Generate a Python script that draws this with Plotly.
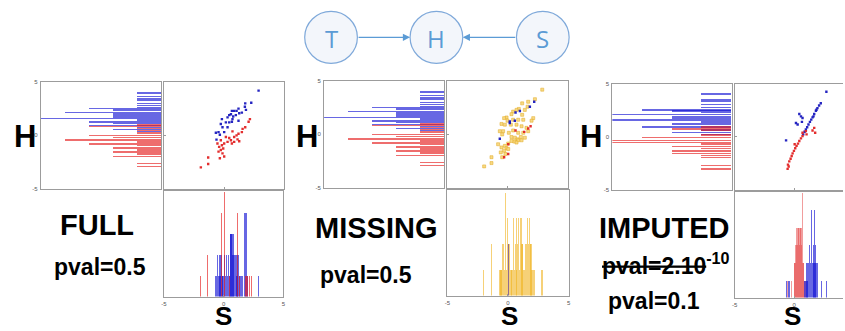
import plotly.graph_objects as go

W, H = 845, 331

# ---------------- data ----------------
# H histograms (horizontal, counts per thin bin)
full_hh_blue_h = [3.99, 3.64, 3.42, 3.26, 3.01, 2.79, 2.63, 2.54, 2.44, 2.32, 2.13, 2.00, 1.85, 1.72, 1.59, 1.44, 1.28, 1.12, 0.93, 0.74, 0.55, 0.36]
full_hh_blue_n = [1, 1, 1, 1, 1, 1, 1, 3, 2, 2, 4, 2, 2, 2, 5, 1, 3, 2, 3, 1, 2, 1]
full_hh_red_h = [0.99, 0.84, 0.68, 0.49, 0.24, -0.02, -0.21, -0.36, -0.49, -0.62, -0.80, -0.93, -1.15, -1.34, -1.53, -1.72, -1.94, -2.63, -2.92]
full_hh_red_n = [1, 3, 1, 1, 1, 3, 2, 4, 4, 1, 3, 1, 2, 1, 2, 1, 2, 1, 1]

imp_hh_blue_h = [4.04, 3.49, 3.33, 3.08, 2.76, 2.56, 2.47, 2.31, 2.12, 1.96, 1.79, 1.60, 1.41, 1.22, 0.93, 0.67, 0.45, 0.26]
imp_hh_blue_n = [1, 1, 1, 1, 1, 3, 2, 1, 4, 2, 2, 4, 1, 2, 3, 1, 2, 1]
imp_hh_red_h = [0.93, 0.77, 0.61, 0.19, -0.06, -0.35, -0.51, -0.67, -0.90, -1.09, -1.31, -1.54, -1.73, -1.92, -2.69, -3.01]
imp_hh_red_n = [1, 2, 1, 1, 3, 4, 4, 1, 2, 1, 2, 2, 1, 1, 1, 1]

# scatter S (x) vs H (y)
full_sc_blue_s = [2.86, 2.25, 1.75, 1.72, 1.81, 1.47, 1.19, 0.83, 0.64, 0.56, 0.42, 0.97, 1.25, 0.28, 0.69, 0.64, 1.19, -0.19, 0.14, 0.42, -0.28, -0.14, -0.47, 0.00, 0.28, -0.69, -0.36, -0.64, 0.75, 1.03]
full_sc_blue_h = [4.15, 3.02, 2.96, 2.65, 2.35, 2.10, 2.47, 2.26, 2.26, 1.95, 1.86, 1.86, 2.04, 1.65, 1.49, 1.25, 1.34, 1.49, 1.19, 1.19, 1.04, 0.73, 0.27, 0.27, 0.73, 0.21, 0.03, -0.43, 1.74, 2.26]
full_sc_red_s = [2.14, 2.03, 1.75, 1.53, 1.47, 1.19, 1.03, 0.69, 0.83, 0.42, 0.56, 0.83, 1.11, 0.28, 0.14, 0.00, -0.19, -0.42, -0.08, -0.28, -0.47, -0.14, 0.00, -0.36, -0.56, -0.28, 0.64, 1.25, -1.33, -1.33, -1.94]
full_sc_red_h = [1.49, 1.25, 0.73, 0.58, 0.27, 0.12, -0.03, 0.34, -0.18, -0.27, -0.49, -0.64, -0.40, -0.64, -0.18, -0.79, -0.95, -1.10, -1.25, -1.40, -1.55, -1.71, -2.01, -2.16, -0.79, -0.49, -0.79, -0.58, -2.10, -2.71, -3.02]

miss_sc_gold_s = [2.89, 2.28, 1.72, 1.22, 1.67, 1.44, 0.94, 0.75, 0.47, 0.33, 1.22, -0.08, -0.28, 0.00, 0.47, 0.89, 1.31, 2.14, 2.00, -0.50, -0.22, 0.28, 0.75, 1.17, 1.58, -0.64, -0.36, 0.11, 0.47, 0.89, 1.31, -0.44, 0.33, 0.61, 0.83, 1.11, 1.44, 0.56, 0.89, 0.33, 0.06, -0.22, -0.50, -0.08, -0.28, -0.56, 0.06, -0.17, -0.44, -1.33, -1.33, -1.94, -0.78, 0.75, 1.17, 1.72]
miss_sc_gold_h = [4.15, 3.26, 3.02, 2.87, 2.56, 2.26, 2.35, 2.26, 2.10, 1.86, 1.80, 1.55, 1.49, 1.25, 1.34, 1.34, 1.34, 1.49, 1.25, 0.95, 0.88, 0.88, 0.88, 0.73, 0.58, 0.27, 0.27, 0.12, 0.34, 0.12, 0.12, -0.03, -0.27, -0.34, -0.49, -0.27, -0.34, -0.70, -0.58, -0.64, -0.88, -1.10, -1.25, -1.31, -1.55, -1.71, -1.40, -1.86, -2.16, -2.16, -2.71, -3.02, -0.95, -0.79, -0.58, 0.27]
miss_sc_blue_s = [2.22, 1.86, 1.03, 0.67, 0.19, 0.19, 0.61, -0.64]
miss_sc_blue_h = [3.02, 2.56, 2.16, 2.01, 1.19, 1.04, 1.25, -0.43]
miss_sc_red_s = [1.92, 1.72, 1.39, 0.67, 0.06, -0.28, 0.06]
miss_sc_red_h = [0.73, 0.52, 0.21, 0.34, -0.95, -2.16, -1.86]

imp_sc_blue_s = [2.69, 2.22, 2.08, 1.94, 1.81, 1.67, 1.53, 1.42, 1.31, 1.19, 1.08, 0.97, 0.86, 0.75, 1.61, 1.86, 0.42, 0.56, 0.69, 0.14, 0.28, 0.64, -0.69]
imp_sc_blue_h = [4.23, 3.14, 2.93, 2.68, 2.43, 2.12, 1.81, 1.59, 1.38, 1.13, 0.88, 0.67, 0.45, 0.20, 1.90, 2.52, 2.12, 1.90, 1.75, 1.28, 1.13, 1.38, -0.36]
imp_sc_red_s = [0.69, 0.56, 0.42, 0.31, 0.19, 0.08, -0.03, -0.14, -0.22, -0.31, -0.42, -0.53, -0.47, -0.56, 0.69, 0.97, 1.67, 1.53, 1.75, 1.03, 0.03]
imp_sc_red_h = [0.05, -0.17, -0.42, -0.67, -0.88, -1.10, -1.35, -1.59, -1.84, -2.09, -2.34, -2.65, -2.83, -3.05, 0.36, 0.51, 0.82, 0.57, 0.36, 0.20, -0.73]

# S histograms (vertical thin bars)
full_sh_red_s = [-1.92, -1.36, -0.18, 0.10, 0.46, 1.16, 1.30, 1.81, 1.95, 2.14, 2.34]
full_sh_red_n = [1, 2, 4, 5, 1, 4, 1, 1, 1, 1, 1]
full_sh_blue_s = [-0.68, -0.60, -0.52, -0.45, -0.38, -0.30, -0.22, -0.12, -0.05, 0.05, 0.15, 0.22, 0.30, 0.40, 0.48, 0.55, 0.62, 0.70, 0.78, 0.85, 0.95, 1.05, 1.12, 1.20, 1.30, 1.40, 1.50, 1.60, 1.78, 1.88, 2.00, 2.93]
full_sh_blue_n = [1, 1, 2, 1, 2, 1, 2, 1, 1, 2, 1, 2, 1, 2, 1, 3, 3, 3, 2, 3, 2, 2, 1, 2, 1, 1, 1, 1, 4, 4, 1, 1]

miss_sh_gold_s = [-1.96, -1.36, -0.70, -0.62, -0.55, -0.48, -0.40, -0.32, -0.25, -0.18, -0.10, 0.01, 0.08, 0.15, 0.22, 0.29, 0.36, 0.48, 0.55, 0.64, 0.70, 0.75, 0.82, 0.92, 1.00, 1.11, 1.18, 1.25, 1.32, 1.40, 1.47, 1.55, 1.66, 1.72, 1.79, 1.86, 1.93, 2.00, 2.12, 2.20, 2.84]
miss_sh_gold_n = [1, 2, 1, 1, 1, 1, 2, 2, 1, 4, 1, 3, 2, 2, 1, 1, 1, 3, 1, 2, 1, 3, 2, 3, 1, 3, 2, 2, 1, 1, 2, 2, 3, 2, 3, 2, 2, 1, 1, 1, 1]
miss_sh_blue_s = [0.10]
miss_sh_blue_n = [2]

imp_sh_red_s = [-0.61, -0.25, -0.03, 0.03, 0.08, 0.14, 0.19, 0.25, 0.31, 0.36, 0.42, 0.48, 0.53, 0.58, 0.64, 0.70, 0.75, 0.86]
imp_sh_red_n = [1, 1, 2, 2, 3, 3, 4, 3, 4, 4, 3, 4, 4, 3, 6, 2, 2, 1]
imp_sh_blue_s = [-0.69, -0.47, 0.81, 0.90, 0.97, 1.04, 1.11, 1.18, 1.25, 1.32, 1.42, 1.49, 1.56, 1.62, 1.67, 1.72, 1.78, 1.84, 1.89, 2.22, 2.64]
imp_sh_blue_n = [1, 1, 1, 1, 2, 1, 2, 2, 3, 2, 5, 2, 3, 2, 5, 2, 3, 2, 2, 1, 1]

panel_titles = ["FULL", "MISSING", "IMPUTED"]
node_labels = ["T", "H", "S"]

# ---------------- styling ----------------
BLUE_BAR = "rgba(10,10,210,0.62)"
RED_BAR = "rgba(228,20,20,0.62)"
GOLD_BAR = "rgba(240,178,30,0.6)"
BLUE_PT = "rgba(25,25,190,0.95)"
RED_PT = "rgba(225,35,35,0.95)"
FONT = "Liberation Sans, Arial, sans-serif"

def dx(a, b):
    return [a / W, min(b / W, 1.0)]

def dy(top, bottom):
    return [1 - bottom / H, 1 - top / H]

panels = [
    dict(hh=(38, 159, 80, 189), sc=(162, 283, 80, 189), sh=(162, 282, 191, 299), hmax=5, shmax=5.03, srange=[-5, 5], cut=False,
         hh_data=[(full_hh_blue_h, full_hh_blue_n, BLUE_BAR), (full_hh_red_h, full_hh_red_n, RED_BAR)],
         sc_data=[(full_sc_blue_s, full_sc_blue_h, BLUE_PT, None), (full_sc_red_s, full_sc_red_h, RED_PT, None)],
         sh_data=[(full_sh_blue_s, full_sh_blue_n, BLUE_BAR), (full_sh_red_s, full_sh_red_n, RED_BAR)]),
    dict(hh=(323, 444, 79, 188), sc=(447, 568, 79, 188), sh=(447, 569, 190, 298), hmax=5, shmax=4.1, srange=[-5, 5], cut=False,
         hh_data=[(full_hh_blue_h, full_hh_blue_n, BLUE_BAR), (full_hh_red_h, full_hh_red_n, RED_BAR)],
         sc_data=[(miss_sc_gold_s, miss_sc_gold_h, "rgba(246,214,120,0.9)", "rgba(228,172,40,0.9)"),
                  (miss_sc_blue_s, miss_sc_blue_h, BLUE_PT, None), (miss_sc_red_s, miss_sc_red_h, RED_PT, None)],
         sh_data=[(miss_sh_gold_s, miss_sh_gold_n, GOLD_BAR), (miss_sh_blue_s, miss_sh_blue_n, "rgba(80,40,160,0.6)")]),
    dict(hh=(613, 733, 82, 190), sc=(736, 845, 82, 190), sh=(736, 845, 192, 300), hmax=4, shmax=6.05, srange=[-5, 4.083], cut=True,
         hh_data=[(imp_hh_blue_h, imp_hh_blue_n, BLUE_BAR), (imp_hh_red_h, imp_hh_red_n, RED_BAR)],
         sc_data=[(imp_sc_blue_s, imp_sc_blue_h, BLUE_PT, None), (imp_sc_red_s, imp_sc_red_h, RED_PT, None)],
         sh_data=[(imp_sh_red_s, imp_sh_red_n, "rgba(228,60,60,0.5)"), (imp_sh_blue_s, imp_sh_blue_n, BLUE_BAR)]),
]

fig = go.Figure()
layout = dict(width=W, height=H, margin=dict(l=0, r=0, t=0, b=0), autosize=False,
              paper_bgcolor="white", plot_bgcolor="white", showlegend=False, barmode="overlay",
              bargap=0)

def ax(**kw):
    d = dict(showline=True, linecolor="#9c9c9c", linewidth=1, mirror=True, showgrid=False,
             zeroline=False, ticks="", showticklabels=False, fixedrange=True,
             tickfont=dict(size=6, color="#555", family=FONT))
    d.update(kw)
    return d

for p, P in enumerate(panels):
    i1, i2, i3 = 3 * p + 1, 3 * p + 2, 3 * p + 3
    nm = lambda i: "" if i == 1 else str(i)
    # horizontal H histogram
    x0, x1, t, b = P["hh"]
    layout["xaxis" + nm(i1)] = ax(domain=dx(x0, x1), range=[P["hmax"], 0], anchor="y" + nm(i1))
    layout["yaxis" + nm(i1)] = ax(domain=dy(t, b), range=[-5, 5], anchor="x" + nm(i1),
                                  showticklabels=True, tickvals=[-5, 0, 5], ticktext=["-5", "0", "5"], ticklabelstandoff=1)
    for hv, nv, col in P["hh_data"]:
        fig.add_trace(go.Bar(orientation="h", x=nv, y=hv, width=0.13, marker=dict(color=col, line=dict(width=0)),
                             xaxis="x" + nm(i1), yaxis="y" + nm(i1)))
    # scatter
    x0, x1, t, b = P["sc"]
    layout["xaxis" + nm(i2)] = ax(domain=dx(x0, x1), range=P["srange"], anchor="y" + nm(i2),
                                  ticks="inside", ticklen=2, tickcolor="#9c9c9c", tickvals=[-5, 0, 5])
    layout["yaxis" + nm(i2)] = ax(domain=dy(t, b), range=[-5, 5], anchor="x" + nm(i2), mirror=not P["cut"],
                                  ticks="inside", ticklen=2, tickcolor="#9c9c9c", tickvals=[-5, 0, 5])
    for sv, hv, col, lc in P["sc_data"]:
        fig.add_trace(go.Scatter(x=sv, y=hv, mode="markers",
                                 marker=dict(symbol="square", size=3 if lc else 2.4, color=col,
                                             line=dict(width=0.6 if lc else 0, color=lc or col)),
                                 xaxis="x" + nm(i2), yaxis="y" + nm(i2)))
    # vertical S histogram
    x0, x1, t, b = P["sh"]
    layout["xaxis" + nm(i3)] = ax(domain=dx(x0, x1), range=P["srange"], anchor="y" + nm(i3),
                                  showticklabels=True, tickvals=[-5, 0, 5], ticktext=["-5", "0", "5"],
                                  ticks="inside", ticklen=2, tickcolor="#9c9c9c", ticklabelstandoff=1)
    layout["yaxis" + nm(i3)] = ax(domain=dy(t, b), range=[0, P["shmax"]], anchor="x" + nm(i3), mirror=not P["cut"])
    for sv, nv, col in P["sh_data"]:
        fig.add_trace(go.Bar(x=sv, y=nv, width=0.1, marker=dict(color=col, line=dict(width=0)),
                             xaxis="x" + nm(i3), yaxis="y" + nm(i3)))

annotations = []

def txt(text, xc, yc, size, color="black", family=FONT, bold=True):
    annotations.append(dict(text=("<b>%s</b>" % text) if bold else text, x=xc / W, y=1 - yc / H,
                            xref="paper", yref="paper", showarrow=False, xanchor="center", yanchor="middle",
                            font=dict(size=size, color=color, family=family)))

# axis letters
for xc, yc in [(22, 136), (306, 136), (591, 136)]:
    txt("H", xc, yc, 31)
for xc, yc in [(222, 319), (510, 319), (794, 319)]:
    txt("S", xc, yc, 26)

# panel titles
for t_, xc, yc in zip(panel_titles, [95, 375, 665], [226, 229, 229]):
    txt(t_, xc, yc, 29)
txt("pval=0.5", 98, 269, 23)
txt("pval=0.5", 365, 277, 23)
txt("<s>pval=2.10</s><sup>-10</sup>", 667, 266, 23)
txt("pval=0.1", 655, 303, 23)

# node diagram
shapes = []
node_x = [330, 436, 543]
for cx, lab in zip(node_x, node_labels):
    r = 26.5
    shapes.append(dict(type="circle", xref="paper", yref="paper",
                       x0=(cx - r) / W, x1=(cx + r) / W, y0=1 - (35 + r) / H, y1=1 - (35 - r) / H,
                       line=dict(color="#7fa9da", width=1.2), fillcolor="#f3f6fb", layer="above"))
    annotations.append(dict(text=lab, x=cx / W, y=1 - 36 / H, xref="paper", yref="paper", showarrow=False,
                            xanchor="center", yanchor="middle",
                            font=dict(size=24, color="#5b9bd5", family="Open Sans, sans-serif")))
# arrows T->H and S->H
annotations.append(dict(text="", x=(node_x[1] - 26.5) / W, y=1 - 35 / H, xref="paper", yref="paper",
                        ax=-(node_x[1] - node_x[0] - 53), ay=0, showarrow=True, arrowhead=2, arrowsize=1.2,
                        arrowwidth=1.2, arrowcolor="#5b9bd5", standoff=0, startstandoff=0))
annotations.append(dict(text="", x=(node_x[1] + 26.5) / W, y=1 - 35 / H, xref="paper", yref="paper",
                        ax=(node_x[2] - node_x[1] - 53), ay=0, showarrow=True, arrowhead=2, arrowsize=1.2,
                        arrowwidth=1.2, arrowcolor="#5b9bd5", standoff=0, startstandoff=0))

layout["annotations"] = annotations
layout["shapes"] = shapes
fig.update_layout(**layout)
fig.write_html("out.html", config={"displayModeBar": False},
               post_script="document.body.style.margin='0';document.body.style.overflow='hidden';")
